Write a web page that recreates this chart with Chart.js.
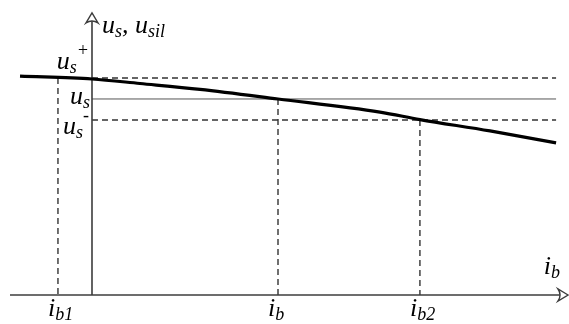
<!DOCTYPE html>
<html>
<head>
<meta charset="utf-8">
<script src="https://cdn.jsdelivr.net/npm/chart.js@4"></script>
<style>
  html, body { margin: 0; padding: 0; background: #fff; }
  #wrap { position: relative; width: 569px; height: 324px; }
  .rotulo { position: absolute; white-space: nowrap; font-family: "Liberation Serif"; font-style: italic;
            font-size: 26px; line-height: 1; color: #000; }
  .rotulo .sub { font-size: 18px; position: relative; top: 4px; }
  .rotulo .sup { font-size: 18px; position: relative; top: -13px; }
</style>
</head>
<body>
<div id="wrap"><canvas id="grafico" width="569" height="324"></canvas></div>
<script>
// valores (unidades: i_b = 1, u_s = 1)
const curvaX = [-0.387, 0, 0.258, 0.581, 1, 1.548, 1.763, 2.140, 2.495];
const curvaY = [1.117, 1.102, 1.079, 1.049, 1.0, 0.933, 0.895, 0.837, 0.776];

const niveis = [1.107, 1.0, 0.893];          // u_s+, u_s, u_s-
const niveisNomes = [['u', 's', '+'], ['u', 's', ''], ['u', 's', '-']];
const niveisTracejado = [true, false, true];
const fimNiveis = 2.495;

const ticksX = [-0.183, 1, 1.763];            // i_b1, i_b, i_b2
const ticksTopo = [1.107, 1.0, 0.893];        // onde a linha tracejada comeca
const ticksNomes = [['i', 'b1'], ['i', 'b'], ['i', 'b2']];

// extensao dos eixos
const eixoX = [-0.441, 2.554];
const eixoYTopo = 1.439;

const corEixo = '#3c3c3c';
const wrap = document.getElementById('wrap');

function pares(xs, ys) {
    return xs.map((x, i) => ({ x: x, y: ys[i] }));
}

const datasets = [];

// curva principal
datasets.push({
    data: pares(curvaX, curvaY),
    borderColor: '#000',
    borderWidth: 3.2,
    cubicInterpolationMode: 'monotone',
    order: 0
});

// linhas horizontais u_s+, u_s, u_s-
niveis.forEach((n, i) => {
    datasets.push({
        data: [{ x: 0, y: n }, { x: fimNiveis, y: n }],
        borderColor: niveisTracejado[i] ? '#333' : '#555',
        borderWidth: niveisTracejado[i] ? 1.4 : 1,
        borderDash: niveisTracejado[i] ? [6, 4] : [],
        order: 2
    });
});

// linhas verticais tracejadas
ticksX.forEach((t, i) => {
    datasets.push({
        data: [{ x: t, y: ticksTopo[i] }, { x: t, y: 0 }],
        borderColor: '#333',
        borderWidth: 1.4,
        borderDash: [6, 4],
        order: 2
    });
});

// eixos
datasets.push({
    data: [{ x: eixoX[0], y: 0 }, { x: eixoX[1], y: 0 }],
    borderColor: corEixo, borderWidth: 1.6, order: 1
});
datasets.push({
    data: [{ x: 0, y: 0 }, { x: 0, y: eixoYTopo }],
    borderColor: corEixo, borderWidth: 1.6, order: 1
});

// rotulo em html por cima do canvas (x, linha de base, alinhamento)
function criaRotulo(html, x, base, alinhar) {
    const el = document.createElement('div');
    el.className = 'rotulo';
    el.innerHTML = html;
    el.style.left = x + 'px';
    el.style.top = (base - 21.8) + 'px';
    if (alinhar === 'right') el.style.transform = 'translateX(-100%)';
    wrap.appendChild(el);
}

const sub = t => '<span class="sub">' + t + '</span>';
const sup = t => t ? '<span class="sup">' + t + '</span>' : '';

const setas = {
    id: 'setas',
    afterDatasetsDraw(chart) {
        const ctx = chart.ctx;
        const sx = chart.scales.x;
        const sy = chart.scales.y;
        const x0 = sx.getPixelForValue(0);
        const y0 = sy.getPixelForValue(0);
        const topo = sy.getPixelForValue(eixoYTopo);
        const fim = sx.getPixelForValue(eixoX[1]);

        ctx.save();
        ctx.strokeStyle = corEixo;
        ctx.lineWidth = 1.4;
        ctx.fillStyle = '#fff';
        ctx.beginPath();
        ctx.moveTo(x0, topo);
        ctx.lineTo(x0 - 6, topo + 10);
        ctx.quadraticCurveTo(x0, topo + 6, x0 + 6, topo + 10);
        ctx.closePath();
        ctx.fill();
        ctx.stroke();
        ctx.beginPath();
        ctx.moveTo(fim + 1, y0);
        ctx.lineTo(fim - 9, y0 - 6);
        ctx.quadraticCurveTo(fim - 5, y0, fim - 9, y0 + 6);
        ctx.closePath();
        ctx.fill();
        ctx.stroke();
        ctx.restore();

        if (chart.$rotulosFeitos) return;
        chart.$rotulosFeitos = true;

        // titulos dos eixos
        criaRotulo('u' + sub('s') + ', u' + sub('sil'), x0 + 10, topo + 21, 'left');
        criaRotulo('i' + sub('b'), fim - 7, y0 - 20, 'right');

        // niveis
        const desloc = [-8, 6, 15];
        const margem = [3, 2, 3];
        niveis.forEach((n, i) => {
            const nm = niveisNomes[i];
            criaRotulo(nm[0] + sub(nm[1]) + sup(nm[2]), x0 - margem[i], sy.getPixelForValue(n) + desloc[i], 'right');
        });

        // rotulos do eixo x
        ticksX.forEach((t, i) => {
            const nm = ticksNomes[i];
            criaRotulo(nm[0] + sub(nm[1]), sx.getPixelForValue(t) - 10, y0 + 22, 'left');
        });
    }
};

new Chart(document.getElementById('grafico'), {
    type: 'scatter',
    data: { datasets: datasets.map(d => Object.assign({ showLine: true, pointRadius: 0, fill: false }, d)) },
    options: {
        responsive: false,
        animation: false,
        events: [],
        layout: { padding: 0 },
        plugins: { legend: { display: false }, tooltip: { enabled: false } },
        scales: {
            x: { type: 'linear', display: false, min: -0.4946, max: 2.5645 },
            y: { type: 'linear', display: false, min: -0.148, max: 1.505 }
        }
    },
    plugins: [setas]
});
</script>
</body>
</html>
